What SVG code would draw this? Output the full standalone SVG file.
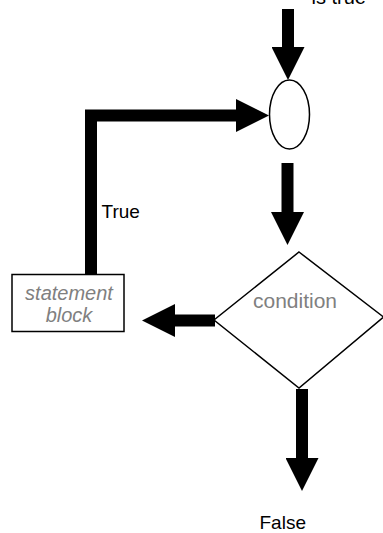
<svg xmlns="http://www.w3.org/2000/svg" width="383" height="533" viewBox="0 0 383 533">
<style>
.lbl{font-family:"Liberation Sans",Arial,sans-serif;font-size:19px;fill:#000}
.grey{font-family:"Liberation Sans",Arial,sans-serif;font-size:20px;fill:#808080}
.shape{fill:#fff;stroke:#000;stroke-width:1.5}
.conn{fill:none;stroke:#000;stroke-width:12;stroke-linejoin:miter;marker-end:url(#head)}
</style>
<defs>
<marker id="head" viewBox="0 0 10 10" refX="0" refY="5" markerWidth="2.75" markerHeight="2.75" orient="auto" markerUnits="strokeWidth">
<path d="M0,0 L10,5 L0,10 Z" fill="#000"/>
</marker>
</defs>
<rect width="383" height="533" fill="#fff"/>
<g id="connectors">
<path class="conn" d="M288,9 V47"/>
<path class="conn" d="M91,275 V115.5 H236"/>
<path class="conn" d="M287.5,163 V212"/>
<path class="conn" d="M215,320.5 H175"/>
<path class="conn" d="M302,389 V458"/>
</g>
<g id="junction">
<ellipse class="shape" cx="289.5" cy="114.5" rx="20" ry="34.5"/>
</g>
<g id="condition">
<polygon class="shape" points="299,252 383.5,317 299,388 214,320"/>
<text class="grey" x="295" y="307.5" text-anchor="middle" style="font-size:21px">condition</text>
</g>
<g id="statement-block">
<rect class="shape" x="12" y="274.5" width="112" height="57"/>
<text class="grey" x="69" y="300" text-anchor="middle" font-style="italic">statement</text>
<text class="grey" x="69" y="321.5" text-anchor="middle" font-style="italic">block</text>
</g>
<g id="labels">
<text class="lbl" x="311.5" y="4" style="font-size:20px">is true</text>
<text class="lbl" x="101.5" y="218">True</text>
<text class="lbl" x="259.5" y="529">False</text>
</g>
</svg>
